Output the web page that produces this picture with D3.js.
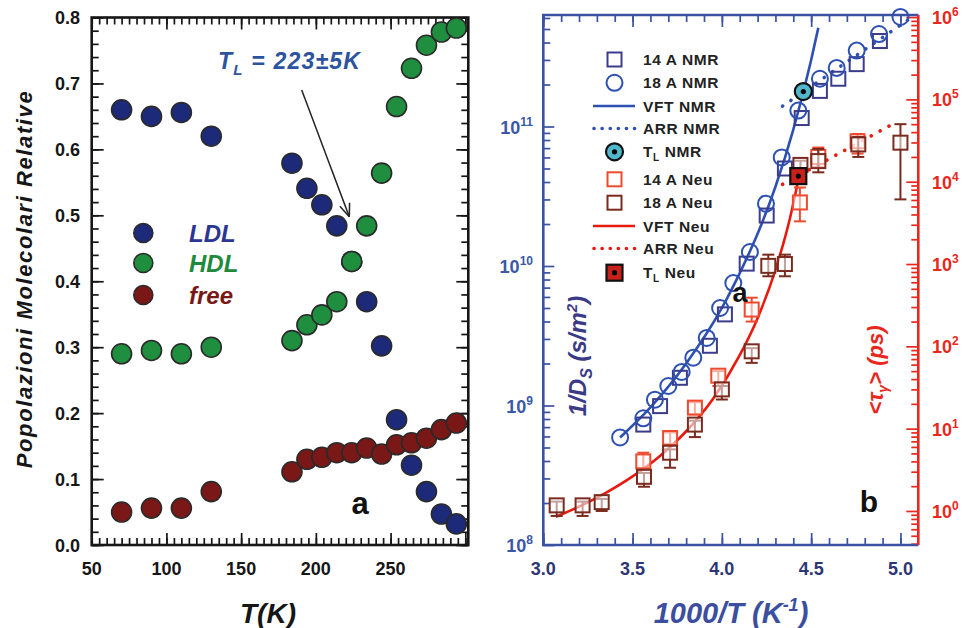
<!DOCTYPE html>
<html><head><meta charset="utf-8">
<script src="https://cdn.jsdelivr.net/npm/d3@7"></script>
<style>body{margin:0;background:#fff}svg{display:block}text{font-family:"Liberation Sans",Arial,sans-serif;font-weight:bold}</style>
</head><body><svg id="c" width="974" height="628"></svg>
<script>
// ---------- Panel a data ----------
const tempK   = [70,90,110,130,184,194,204,214,224,234,244,254,264,274,284,294];
const ldlPop  = [0.660,0.650,0.656,0.620,0.579,0.541,0.516,0.484,0.430,0.369,0.302,0.190,0.121,0.081,0.047,0.032];
const hdlPop  = [0.290,0.295,0.290,0.300,0.310,0.334,0.349,0.369,0.430,0.484,0.564,0.665,0.723,0.758,0.778,0.784];
const freePop = [0.050,0.056,0.056,0.081,0.111,0.130,0.133,0.140,0.140,0.147,0.138,0.152,0.155,0.162,0.175,0.185];
const seriesNamesA = ["LDL","HDL","free"];
const xTickLabelsA = [50,100,150,200,250];
const yTickLabelsA = [0,0.1,0.2,0.3,0.4,0.5,0.6,0.7,0.8];

// ---------- Panel b data ----------
const nmr14X = [3.56,3.654,3.765,3.933,4.017,4.139,4.251,4.353,4.447,4.549,4.652,4.755,4.885];
const nmr14Y = [7.3e8,9.9e8,1.58e9,2.68e9,4.5e9,1.04e10,2.3e10,5.0e10,1.15e11,1.8e11,2.2e11,2.8e11,4.1e11];
const nmr18X = [3.43,3.56,3.625,3.70,3.775,3.84,3.915,3.99,4.064,4.157,4.247,4.335,4.428,4.549,4.643,4.755,4.880,5.0];
const nmr18Y = [5.9e8,8.1e8,1.1e9,1.38e9,1.74e9,2.2e9,3.05e9,5.0e9,7.55e9,1.26e10,2.8e10,6.0e10,1.3e11,2.2e11,2.63e11,3.5e11,4.6e11,6.1e11];
const vftNmrX = [3.43,3.6,3.8,4.0,4.1,4.2,4.3,4.4,4.5,4.54];
const vftNmrY = [5.9e8,9.7e8,2.0e9,5.0e9,8.9e9,1.7e10,3.7e10,9.5e10,3.0e11,5.1e11];
const arrNmrX = [4.34,5.05];
const arrNmrY = [1.4e11,5.9e11];
const tlNmr = [4.456,1.78e11];

const neu14X  = [3.56,3.71,3.849,3.98,4.167,4.437,4.54,4.76];
const neu14Y  = [4.0,7.7,18,44,280,5600,20000,31000];
const neu14Lo = [3.3,6.5,15,33,200,3300,15000,22000];
const neu14Hi = [5.1,9,21,50,390,8500,26000,38000];
const neu18X  = [3.075,3.22,3.327,3.564,3.71,3.849,4.0,4.167,4.26,4.353,4.44,4.54,4.764,5.0];
const neu18Y  = [1.17,1.17,1.28,2.6,5.1,11.2,30,87,950,1000,16000,17800,28400,29800];
const neu18Lo = [0.87,0.87,1.0,1.97,3.35,7.9,22.6,63,710,710,12000,13000,20000,6100];
const neu18Hi = [1.3,1.3,1.4,2.9,5.6,12.5,33,95,1300,1300,18000,25000,35000,50000];
const vftNeuX = [3.07,3.2,3.35,3.5,3.65,3.8,3.95,4.1,4.2,4.3,4.38,4.44];
const vftNeuY = [0.85,1.13,1.66,2.63,4.6,9.3,23,78,220,850,3500,14000];
const arrNeuX = [4.34,4.97];
const arrNeuY = [9300,52000];
const tlNeu = [4.428,11700];

const xTickLabelsB = [3.0,3.5,4.0,4.5,5.0];
const leftExpB = [8,9,10,11];
const rightExpB = [0,1,2,3,4,5,6];
const legendLabelsB = ["14 A NMR","18 A NMR","VFT NMR","ARR NMR","T|L NMR","14 A Neu","18 A Neu","VFT Neu","ARR Neu","T|L Neu"];

// ---------- drawing ----------
const svg = d3.select("#c");
const FONT = '"Liberation Sans",Arial,sans-serif';

function ticks(axisFn, scale, vals, size, tx, ty, color){
  const a = axisFn(scale).tickValues(vals).tickSize(size).tickFormat("");
  const s = svg.append("g").attr("transform",`translate(${tx},${ty})`).call(a);
  s.select(".domain").remove();
  s.selectAll("line").attr("stroke",color).attr("stroke-width",1.7);
}

// ===== Panel a =====
const xA = d3.scaleLinear([50,302],[91.7,468.3]);
const yA = d3.scaleLinear([0,0.8],[545,17.5]);
const cA = "#161616";
const minorX = d3.range(50,301,5), majorX = d3.range(50,301,50);
const minorY = d3.range(0,0.801,0.02), majorY = d3.range(0,0.801,0.1);
ticks(d3.axisBottom,xA,minorX,-7,0,545,cA);
ticks(d3.axisBottom,xA,majorX,-12,0,545,cA);
ticks(d3.axisTop,xA,minorX,-7,0,17.5,cA);
ticks(d3.axisTop,xA,majorX,-12,0,17.5,cA);
ticks(d3.axisLeft,yA,minorY,-7,91.7,0,cA);
ticks(d3.axisLeft,yA,majorY,-12,91.7,0,cA);
ticks(d3.axisRight,yA,minorY,-7,468.3,0,cA);
ticks(d3.axisRight,yA,majorY,-12,468.3,0,cA);
svg.append("rect").attr("x",91.7).attr("y",17.5).attr("width",468.3-91.7).attr("height",545-17.5)
  .attr("fill","none").attr("stroke",cA).attr("stroke-width",2.6);

svg.append("g").selectAll("text").data(xTickLabelsA).join("text")
  .attr("x",d=>xA(d)).attr("y",575).attr("text-anchor","middle")
  .attr("font-size",18).attr("fill",cA).text(d=>d);
svg.append("g").selectAll("text").data(yTickLabelsA).join("text")
  .attr("x",80).attr("y",d=>yA(d)+6.5).attr("text-anchor","end")
  .attr("font-size",18).attr("fill",cA).text(d=>d3.format(".1f")(d));

svg.append("text").attr("transform","translate(32,279) rotate(-90)").attr("text-anchor","middle")
  .attr("font-size",22).attr("font-style","italic").attr("letter-spacing",1.6).attr("fill",cA)
  .text("Popolazioni Molecolari Relative");
svg.append("text").attr("x",268).attr("y",623).attr("text-anchor","middle")
  .attr("font-size",28).attr("font-style","italic").attr("fill",cA).text("T(K)");

const colA = {LDL:"#1d2a7a",HDL:"#1f8f3f",free:"#7a1717"};
const txtA = {LDL:"#2b3592",HDL:"#1f8a3c",free:"#7a1717"};
const valsA = {LDL:ldlPop,HDL:hdlPop,free:freePop};
["LDL","HDL","free"].forEach(n=>{
  svg.append("g").selectAll("circle").data(tempK.map((t,i)=>[t,valsA[n][i]])).join("circle")
    .attr("cx",d=>xA(d[0])).attr("cy",d=>yA(d[1])).attr("r",10)
    .attr("fill",colA[n]).attr("stroke","#2a2a2a").attr("stroke-width",1.6);
});
const legYA = [233,263,295];
seriesNamesA.forEach((n,i)=>{
  svg.append("circle").attr("cx",143.3).attr("cy",legYA[i]).attr("r",9.5)
    .attr("fill",colA[n]).attr("stroke","#2a2a2a").attr("stroke-width",1.6);
  svg.append("text").attr("x",189).attr("y",legYA[i]+9).attr("font-size",24)
    .attr("font-style","italic").attr("fill",txtA[n]).text(n);
});
// annotation
const ann = svg.append("text").attr("x",218).attr("y",69).attr("font-size",23)
  .attr("font-style","italic").attr("fill","#2c53a0").attr("letter-spacing",1.2);
ann.append("tspan").text("T");
ann.append("tspan").attr("font-size",15).attr("dy",6).text("L");
ann.append("tspan").attr("dy",-6).text(" = 223±5K");
svg.append("line").attr("x1",301.7).attr("y1",90).attr("x2",349.3).attr("y2",216.7)
  .attr("stroke","#222").attr("stroke-width",1.5);
(function(){
  const ang = Math.atan2(216.7-90,349.3-301.7), L=14, sp=0.38;
  [ang+Math.PI-sp, ang+Math.PI+sp].forEach(a=>{
    svg.append("line").attr("x1",349.3).attr("y1",216.7)
      .attr("x2",349.3+L*Math.cos(a)).attr("y2",216.7+L*Math.sin(a))
      .attr("stroke","#222").attr("stroke-width",1.5);
  });
})();
svg.append("text").attr("x",360).attr("y",514).attr("text-anchor","middle").attr("font-size",31)
  .attr("fill","#111").text("a");

// ===== Panel b =====
const xB = d3.scaleLinear([3.0,5.1],[543.3,918.3]);
const yL = d3.scaleLog([1e8,6.3e11],[545,15]);
const yR = d3.scaleLog([0.386,1.06e6],[545,15]);
const blue = "#3b52a3", red = "#e8281d";
const minorXB = d3.range(30,51,1).map(v=>v/10), majorXB = [3.0,3.5,4.0,4.5,5.0];
ticks(d3.axisBottom,xB,minorXB,-7,0,545,blue);
ticks(d3.axisBottom,xB,majorXB,-12,0,545,blue);
ticks(d3.axisTop,xB,minorXB,-7,0,15,blue);
ticks(d3.axisTop,xB,majorXB,-12,0,15,blue);
const minorL = [], majorL = leftExpB.map(e=>Math.pow(10,e));
for(let e=8;e<=11;e++) for(let m=2;m<=9;m++){ const v=m*Math.pow(10,e); if(v<=6.3e11) minorL.push(v); }
const minorR = [], majorR = rightExpB.map(e=>Math.pow(10,e));
for(let e=-1;e<=6;e++) for(let m=2;m<=9;m++){ const v=m*Math.pow(10,e); if(v>=0.386 && v<=1.06e6) minorR.push(v); }
ticks(d3.axisLeft,yL,minorL,-7,543.3,0,blue);
ticks(d3.axisLeft,yL,majorL,-11,543.3,0,blue);
ticks(d3.axisRight,yR,minorR,-7,918.3,0,red);
ticks(d3.axisRight,yR,majorR,-12,918.3,0,red);
svg.append("path").attr("d",`M918.3,15 H543.3 V545 H918.3`).attr("fill","none")
  .attr("stroke",blue).attr("stroke-width",2.6);
svg.append("line").attr("x1",918.3).attr("y1",15).attr("x2",918.3).attr("y2",545)
  .attr("stroke",red).attr("stroke-width",2.6);

svg.append("g").selectAll("text").data(xTickLabelsB).join("text")
  .attr("x",d=>xB(d)).attr("y",575).attr("text-anchor","middle")
  .attr("font-size",18).attr("fill","#2e3675").text(d=>d3.format(".1f")(d));
function powLabel(x,y,e,anchor,color){
  const t = svg.append("text").attr("x",x).attr("y",y).attr("text-anchor",anchor)
    .attr("font-size",18).attr("fill",color);
  t.append("tspan").text("10");
  t.append("tspan").attr("dy",-8).attr("font-size",12).text(e);
}
leftExpB.forEach(e=>powLabel(533,yL(Math.pow(10,e))+7,e,"end","#3a58a8"));
rightExpB.forEach(e=>powLabel(932,yR(Math.pow(10,e))+7,e,"start",red));

const t1 = svg.append("text").attr("transform","translate(586,356) rotate(-90)").attr("text-anchor","middle")
  .attr("font-size",24).attr("font-style","italic").attr("fill","#3a3b86");
t1.append("tspan").text("1/D");
t1.append("tspan").attr("font-size",16).attr("dy",6).text("S");
t1.append("tspan").attr("dy",-6).text(" (s/m");
t1.append("tspan").attr("font-size",15).attr("dy",-9).text("2");
t1.append("tspan").attr("dy",9).text(")");
const t2 = svg.append("text").attr("transform","translate(883,370) rotate(-90)").attr("text-anchor","middle")
  .attr("font-size",22).attr("font-style","italic").attr("fill",red);
t2.append("tspan").text("<τ");
t2.append("tspan").attr("font-size",14).attr("dy",5).text("γ");
t2.append("tspan").attr("dy",-5).text("> (ps)");
const t3 = svg.append("text").attr("x",731).attr("y",623).attr("text-anchor","middle")
  .attr("font-size",29).attr("font-style","italic").attr("fill","#3b4ea0");
t3.append("tspan").text("1000/T (K");
t3.append("tspan").attr("font-size",18).attr("dy",-12).text("-1");
t3.append("tspan").attr("dy",12).text(")");

// curves
const lineL = d3.line().x(d=>xB(d[0])).y(d=>yL(d[1])).curve(d3.curveMonotoneX);
const lineR = d3.line().x(d=>xB(d[0])).y(d=>yR(d[1])).curve(d3.curveMonotoneX);
const zip = (a,b)=>a.map((v,i)=>[v,b[i]]);
const nmrBlue = "#2d50b2", nmrSq = "#3c3c8c", neuRed = "#ef4a2e", neuBrown = "#7a2b1f", fitRed = "#e81a10";
svg.append("path").attr("d",lineR(zip(vftNeuX,vftNeuY))).attr("fill","none").attr("stroke",fitRed).attr("stroke-width",2.6);
svg.append("path").attr("d",lineR(zip(arrNeuX,arrNeuY))).attr("fill","none").attr("stroke",fitRed)
  .attr("stroke-width",3.6).attr("stroke-linecap","round").attr("stroke-dasharray","0.1,10");
svg.append("path").attr("d",lineL(zip(vftNmrX,vftNmrY))).attr("fill","none").attr("stroke",nmrBlue).attr("stroke-width",2.6);
svg.append("path").attr("d",lineL(zip(arrNmrX,arrNmrY))).attr("fill","none").attr("stroke",nmrBlue)
  .attr("stroke-width",3.6).attr("stroke-linecap","round").attr("stroke-dasharray","0.1,10");

// Neu error bars + squares
function neuSeries(X,Y,Lo,Hi,color){
  const g = svg.append("g");
  X.forEach((x,i)=>{
    const px = xB(x);
    g.append("line").attr("x1",px).attr("x2",px).attr("y1",yR(Lo[i])).attr("y2",yR(Hi[i]))
      .attr("stroke",color).attr("stroke-width",2);
    [Lo[i],Hi[i]].forEach(v=>g.append("line").attr("x1",px-6).attr("x2",px+6)
      .attr("y1",yR(v)).attr("y2",yR(v)).attr("stroke",color).attr("stroke-width",2));
  });
  g.selectAll("rect").data(zip(X,Y)).join("rect")
    .attr("x",d=>xB(d[0])-7).attr("y",d=>yR(d[1])-7).attr("width",14).attr("height",14)
    .attr("fill","#fff").attr("fill-opacity",0.55).attr("stroke",color).attr("stroke-width",2);
}
neuSeries(neu14X,neu14Y,neu14Lo,neu14Hi,neuRed);
neuSeries(neu18X,neu18Y,neu18Lo,neu18Hi,neuBrown);

// NMR markers
svg.append("g").selectAll("rect").data(zip(nmr14X,nmr14Y)).join("rect")
  .attr("x",d=>xB(d[0])-7).attr("y",d=>yL(d[1])-7).attr("width",14).attr("height",14)
  .attr("fill","none").attr("stroke",nmrSq).attr("stroke-width",2);
svg.append("g").selectAll("circle").data(zip(nmr18X,nmr18Y)).join("circle")
  .attr("cx",d=>xB(d[0])).attr("cy",d=>yL(d[1])).attr("r",8)
  .attr("fill","none").attr("stroke",nmrBlue).attr("stroke-width",2);

// T_L markers
function tlNmrMark(cx,cy){
  svg.append("circle").attr("cx",cx).attr("cy",cy).attr("r",8.5).attr("fill","#4fb8cc")
    .attr("stroke","#111").attr("stroke-width",2.2);
  svg.append("circle").attr("cx",cx).attr("cy",cy).attr("r",2.6).attr("fill","#000");
}
function tlNeuMark(cx,cy){
  svg.append("rect").attr("x",cx-8).attr("y",cy-8).attr("width",16).attr("height",16)
    .attr("fill","#c8201a").attr("stroke","#111").attr("stroke-width",2.2);
  svg.append("circle").attr("cx",cx).attr("cy",cy).attr("r",2.6).attr("fill","#000");
}
tlNeuMark(xB(tlNeu[0]),yR(tlNeu[1]));
tlNmrMark(xB(tlNmr[0]),yL(tlNmr[1]));

// legend
const legY = [59.5,82.8,106,128.5,151.8,179.3,202.7,226,248.5,272.7];
legendLabelsB.forEach((lab,i)=>{
  const y = legY[i], sx = 614.5;
  if(i===0) svg.append("rect").attr("x",sx-7).attr("y",y-7).attr("width",14).attr("height",14).attr("fill","none").attr("stroke",nmrSq).attr("stroke-width",2);
  if(i===1) svg.append("circle").attr("cx",sx).attr("cy",y).attr("r",8).attr("fill","none").attr("stroke",nmrBlue).attr("stroke-width",2);
  if(i===2) svg.append("line").attr("x1",593).attr("x2",635).attr("y1",y).attr("y2",y).attr("stroke",nmrBlue).attr("stroke-width",2.6);
  if(i===3) svg.append("line").attr("x1",594).attr("x2",635).attr("y1",y).attr("y2",y).attr("stroke",nmrBlue).attr("stroke-width",3.6).attr("stroke-linecap","round").attr("stroke-dasharray","0.1,8");
  if(i===4) tlNmrMark(sx,y);
  if(i===5) svg.append("rect").attr("x",sx-7).attr("y",y-7).attr("width",14).attr("height",14).attr("fill","none").attr("stroke",neuRed).attr("stroke-width",2);
  if(i===6) svg.append("rect").attr("x",sx-7).attr("y",y-7).attr("width",14).attr("height",14).attr("fill","none").attr("stroke",neuBrown).attr("stroke-width",2);
  if(i===7) svg.append("line").attr("x1",593).attr("x2",635).attr("y1",y).attr("y2",y).attr("stroke",fitRed).attr("stroke-width",2.6);
  if(i===8) svg.append("line").attr("x1",594).attr("x2",635).attr("y1",y).attr("y2",y).attr("stroke",fitRed).attr("stroke-width",3.6).attr("stroke-linecap","round").attr("stroke-dasharray","0.1,8");
  if(i===9) tlNeuMark(sx,y);
  const t = svg.append("text").attr("x",643).attr("y",y+5.5).attr("font-size",15.5)
    .attr("letter-spacing",0.6).attr("fill","#222");
  if(lab.startsWith("T|L")){
    t.append("tspan").text("T");
    t.append("tspan").attr("font-size",10).attr("dy",4).text("L");
    t.append("tspan").attr("dy",-4).text(" "+lab.slice(4));
  } else t.text(lab);
});
svg.append("text").attr("x",740).attr("y",302).attr("text-anchor","middle").attr("font-size",27)
  .attr("fill","#111").text("a");
svg.append("text").attr("x",869).attr("y",512).attr("text-anchor","middle").attr("font-size",30)
  .attr("fill","#111").text("b");
</script></body></html>
